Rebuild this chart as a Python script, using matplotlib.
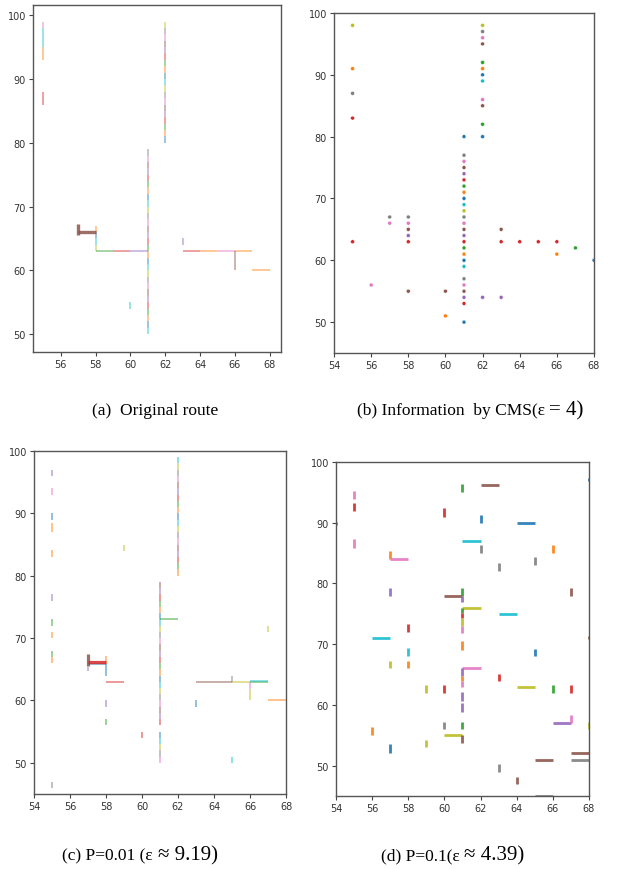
import matplotlib
matplotlib.use("Agg")
import matplotlib.pyplot as plt
import numpy as np

# ---------------- data ----------------
# (a) original route: segments (x0, y0, x1, y1) and colour ('cycle' = multi-coloured unit steps)
a_segs = [
    (55, 98, 55, 99), (55, 95, 55, 98), (55, 93, 55, 95), (55, 86, 55, 88),
    (62, 80, 62, 99), (61, 50, 61, 79),
    (58, 63, 58, 67), (58, 63, 61, 63), (60, 54, 60, 55), (63, 64, 63, 65),
    (63, 63, 64, 63), (64, 63, 65, 63), (65, 63, 66, 63), (66, 63, 67, 63),
    (66, 60, 66, 63), (67, 60, 68, 60),
]
a_cols = ['C6', 'C9', 'C1', 'C3', 'cycle', 'cycle',
          'cycle', 'cycle', 'C9', 'C4',
          'C3', 'C1', 'C6', 'C1', 'C5', 'C1']
a_thick = [(57, 66, 58, 66), (57, 65.5, 57, 67.3)]

# (b) information by CMS: points
b_x = [55, 55, 55, 55, 55, 56, 57, 57, 58, 58, 58, 58, 58, 58, 60, 60] + [61] * 26 + [62] * 13 + \
      [63, 63, 63, 64, 65, 66, 66, 67, 68]
b_y = [98, 91, 87, 83, 63, 56, 67, 66, 67, 66, 65, 64, 63, 55, 55, 51] + \
      [80, 77, 76, 75, 74, 73, 72, 71, 70, 69, 68, 67, 66, 65, 64, 63, 62, 61, 60, 59, 57, 56, 55, 54, 53, 50] + \
      [98, 97, 96, 95, 92, 91, 90, 89, 86, 85, 82, 80, 54] + \
      [65, 63, 54, 63, 63, 63, 61, 62, 60]

# (c) P=0.01
c_segs = [
    (55, 96, 55, 97), (55, 93, 55, 94), (55, 89, 55, 90), (55, 87, 55, 88.5), (55, 83, 55, 84.2),
    (55, 76, 55, 77), (55, 72, 55, 73), (55, 70, 55, 71), (55, 67, 55, 68), (55, 66, 55, 67),
    (55, 46, 55, 47), (59, 84, 59, 85),
    (57, 65.8, 58, 65.8), (57, 64.8, 57, 65.4), (58, 65.8, 58, 67.2), (58, 64, 58, 65.8),
    (58, 63, 59, 63), (58, 59, 58, 60), (58, 56, 58, 57), (60, 54, 60, 55),
    (61, 56, 61, 79), (61, 50, 61, 55), (61, 73, 62, 73), (62, 80, 62, 99),
    (67, 71, 67, 72), (63, 63, 65, 63), (65, 63, 66, 63), (66, 63, 67, 63), (66, 63.15, 67, 63.15),
    (65, 63, 65, 64), (66, 61.8, 66, 63), (66, 60, 66, 61.8), (67, 60, 68, 60),
    (63, 59, 63, 60), (65, 50, 65, 51),
]
c_cols = ['C4', 'C6', 'C0', 'C1', 'C1',
          'C4', 'C2', 'C1', 'C2', 'C1',
          'C7', 'C8',
          'C0', 'C4', 'C1', 'C0',
          'C3', 'C4', 'C2', 'C3',
          'cycle', 'cycle', 'C2', 'cycle',
          'C8', 'C5', 'C8', 'C2', 'C9',
          'C7', 'C6', 'C8', 'C1',
          'C0', 'C9']
c_thick = [(57, 65.6, 57, 67.5, 'C5'), (57, 66.1, 58, 66.1, 'C3')]

# (d) P=0.1
d_segs = [
    (55, 93.9, 55, 95.3), (55, 92, 55, 93.2), (55, 85.8, 55, 87.3), (61, 95, 61, 96.3),
    (62, 96.2, 63, 96.2), (60, 91, 60, 92.4), (62, 90, 62, 91.3), (64, 90, 65, 90),
    (61, 87, 62, 87), (62, 85, 62, 86.3), (66, 85, 66, 86.3), (65, 83, 65, 84.3),
    (63, 82, 63, 83.3), (57, 84, 57, 85.3), (57, 84, 58, 84), (57, 78, 57, 79.3),
    (60, 78, 61, 78), (61, 78, 61, 79.2), (61, 77, 61, 78), (67, 78, 67, 79.2),
    (61, 76, 62, 76), (61, 75.2, 61, 76), (61, 74.3, 61, 75.2), (61, 73, 61, 74.3),
    (61, 71.8, 61, 73), (63, 75, 64, 75), (58, 72, 58, 73.3), (56, 71, 57, 71),
    (61, 69, 61, 70.5), (58, 68, 58, 69.4), (65, 68, 65, 69.2), (57, 66, 57, 67.3),
    (58, 66, 58, 67.3), (61, 66, 62, 66), (61, 64.8, 61, 66), (61, 64, 61, 64.8),
    (61, 63, 61, 64), (63, 64, 63, 65.1), (64, 63, 65, 63), (59, 62, 59, 63.3),
    (60, 62, 60, 63.3), (66, 62, 66, 63.3), (67, 62, 67, 63.3), (61, 60.7, 61, 62.2),
    (61, 58.9, 61, 60.3), (66, 57, 67, 57), (67, 57, 67, 58.3), (68, 56, 68, 57.2),
    (56, 55, 56, 56.3), (60, 56, 60, 57.2), (61, 56, 61, 57.2), (60, 55, 61, 55),
    (61, 53.8, 61, 55), (57, 52, 57, 53.5), (59, 53, 59, 54.2), (67, 52, 68, 52),
    (65, 51, 66, 51), (67, 51, 68, 51), (63, 49, 63, 50.2), (64, 47, 64, 48.2),
    (65, 45, 66, 45), (68, 96.8, 68, 97.4), (68, 70.9, 68, 71.3), (54, 89.7, 54, 90.2),
]
d_cols = ['C6', 'C3', 'C6', 'C2',
          'C5', 'C3', 'C0', 'C0',
          'C9', 'C7', 'C1', 'C7',
          'C7', 'C1', 'C6', 'C4',
          'C5', 'C2', 'C4', 'C5',
          'C8', 'C2', 'C3', 'C8',
          'C6', 'C9', 'C3', 'C9',
          'C1', 'C9', 'C0', 'C8',
          'C1', 'C6', 'C4', 'C1',
          'C6', 'C3', 'C8', 'C8',
          'C3', 'C2', 'C3', 'C4',
          'C4', 'C4', 'C6', 'C8',
          'C1', 'C7', 'C2', 'C8',
          'C5', 'C0', 'C8', 'C5',
          'C5', 'C7', 'C7', 'C5',
          'C7', 'C0', 'C5', 'C2']

x_ticks_full = [54, 56, 58, 60, 62, 64, 66, 68]
y_ticks = [50, 60, 70, 80, 90, 100]

# captions: (plain part, math-sized part)
captions = [("(a)  Original route", ""),
            ("(b) Information  by CMS(ε ", "= 4)"),
            ("(c) P=0.01 (ε ", "≈ 9.19)"),
            ("(d) P=0.1(ε ", "≈ 4.39)")]

# ---------------- drawing ----------------
W, H = 619, 870
fig = plt.figure(figsize=(W / 100, H / 100), dpi=100)

def ax_px(l, t, r, b):
    return fig.add_axes([l / W, 1 - b / H, (r - l) / W, (b - t) / H])

tick_font = dict(family=['Liberation Sans Narrow', 'DejaVu Sans'], size=7)

def style(ax, xlim, ylim, xt):
    ax.set_xlim(*xlim)
    ax.set_ylim(*ylim)
    ax.set_xticks(xt)
    ax.set_yticks(y_ticks)
    ax.set_xticklabels([str(v) for v in xt], **tick_font, color='#333333')
    ax.set_yticklabels([str(v) for v in y_ticks], **tick_font, color='#333333')
    ax.tick_params(length=3, width=0.8, color='#444444', pad=2)
    for s in ax.spines.values():
        s.set_color('#555555')
        s.set_linewidth(1.0)

cyc = plt.rcParams['axes.prop_cycle'].by_key()['color']

def draw_route(ax, segs, cols, lw, alpha, start=0):
    k = start
    for (x0, y0, x1, y1), c in zip(segs, cols):
        if c == 'cycle':
            n = int(round(max(abs(x1 - x0), abs(y1 - y0))))
            xs = np.linspace(x0, x1, n + 1)
            ys = np.linspace(y0, y1, n + 1)
            for i in range(n):
                ax.plot(xs[i:i + 2], ys[i:i + 2], color=cyc[k % 10], lw=lw, alpha=alpha,
                        solid_capstyle='butt')
                k += 1
        else:
            ax.plot([x0, x1], [y0, y1], color=c, lw=lw, alpha=alpha, solid_capstyle='butt')

# (a)
ax_a = ax_px(33, 6, 281, 353)
draw_route(ax_a, a_segs, a_cols, 1.1, 0.55)
for (x0, y0, x1, y1) in a_thick:
    ax_a.plot([x0, x1], [y0, y1], color='C5', lw=2.4, alpha=0.85, solid_capstyle='butt')
style(ax_a, (54.4, 68.65), (47.2, 101.6), x_ticks_full[1:])

# (b)
ax_b = ax_px(334, 14, 594, 354)
b_c = [cyc[int(v) % 10] for v in b_y]
ax_b.scatter(b_x, b_y, c=b_c, s=8, marker='o', edgecolors='white', linewidths=0.3, zorder=3)
style(ax_b, (54, 68), (45, 100), x_ticks_full)

# (c)
ax_c = ax_px(34, 452, 286, 795)
draw_route(ax_c, c_segs, c_cols, 1.1, 0.6, start=3)
for (x0, y0, x1, y1, c) in c_thick:
    ax_c.plot([x0, x1], [y0, y1], color=c, lw=2.3, alpha=0.85, solid_capstyle='butt')
style(ax_c, (54, 68), (45, 100), x_ticks_full)

# (d)
ax_d = ax_px(336, 463, 589, 797)
for (x0, y0, x1, y1), c in zip(d_segs, d_cols):
    ax_d.plot([x0, x1], [y0, y1], color=c, lw=2.0, alpha=0.9, solid_capstyle='butt')
style(ax_d, (54, 68), (45, 100), x_ticks_full)

# captions with a larger "math" part
fig.canvas.draw()
renderer = fig.canvas.get_renderer()
serif = ['Liberation Serif', 'DejaVu Serif']

def caption(cx, cy, plain, mathpart):
    t1 = fig.text(0, 1 - cy / H, plain, family=serif, size=12.5, ha='left', va='baseline')
    t2 = fig.text(0, 1 - cy / H, mathpart, family=serif, size=15, ha='left', va='baseline')
    w1 = t1.get_window_extent(renderer).width
    w2 = t2.get_window_extent(renderer).width if mathpart else 0
    x0 = cx - (w1 + w2) / 2
    t1.set_x(x0 / W)
    t2.set_x((x0 + w1) / W)

caption(155, 415, *captions[0])
caption(470, 415, *captions[1])
caption(140, 860, *captions[2])
caption(453, 860, *captions[3])

fig.savefig("out.png", dpi=100)
